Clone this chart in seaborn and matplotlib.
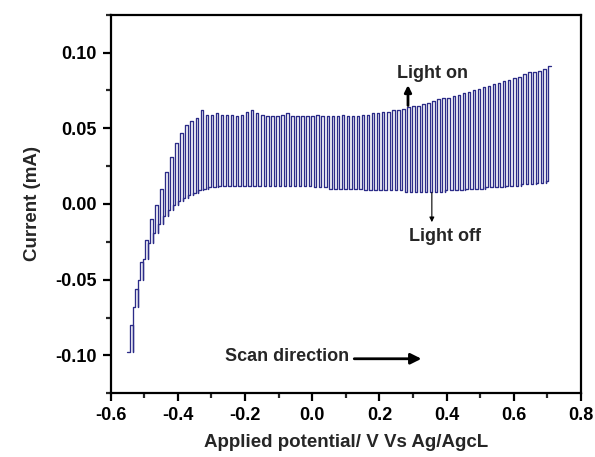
import numpy as np
import pandas as pd
import matplotlib
matplotlib.use("Agg")
import matplotlib.pyplot as plt
import seaborn as sns

# Chopped-light linear sweep: start potential of each light cycle (V vs Ag/AgCl)
cycle_potential = [
    -0.550, -0.535, -0.520, -0.505, -0.490, -0.475, -0.460, -0.445, -0.430, -0.415,
    -0.400, -0.385, -0.370, -0.355, -0.340, -0.325, -0.310, -0.295, -0.280, -0.265,
    -0.250, -0.235, -0.220, -0.205, -0.190, -0.175, -0.160, -0.145, -0.130, -0.115,
    -0.100, -0.085, -0.070, -0.055, -0.040, -0.025, -0.010, 0.005, 0.020, 0.035,
    0.050, 0.065, 0.080, 0.095, 0.110, 0.125, 0.140, 0.155, 0.170, 0.185,
    0.200, 0.215, 0.230, 0.245, 0.260, 0.275, 0.290, 0.305, 0.320, 0.335,
    0.350, 0.365, 0.380, 0.395, 0.410, 0.425, 0.440, 0.455, 0.470, 0.485,
    0.500, 0.515, 0.530, 0.545, 0.560, 0.575, 0.590, 0.605, 0.620, 0.635,
    0.650, 0.665, 0.680, 0.695,
]
# dark (light off) current in each cycle, mA
current_off = [
    -0.098, -0.068, -0.050, -0.036, -0.026, -0.019, -0.013, -0.008, -0.004, -0.001,
    0.002, 0.004, 0.006, 0.007, 0.009, 0.010, 0.011, 0.011, 0.012, 0.012,
    0.012, 0.012, 0.012, 0.012, 0.012, 0.012, 0.012, 0.012, 0.012, 0.012,
    0.012, 0.012, 0.012, 0.012, 0.012, 0.012, 0.012, 0.011, 0.011, 0.011,
    0.010, 0.010, 0.010, 0.010, 0.010, 0.010, 0.010, 0.009, 0.009, 0.009,
    0.009, 0.009, 0.009, 0.009, 0.009, 0.008, 0.008, 0.008, 0.008, 0.008,
    0.008, 0.008, 0.008, 0.009, 0.009, 0.009, 0.009, 0.010, 0.010, 0.010,
    0.010, 0.011, 0.011, 0.011, 0.011, 0.012, 0.012, 0.012, 0.013, 0.013,
    0.013, 0.014, 0.014, 0.015,
]
# photocurrent (light on) in each cycle, mA
current_on = [
    -0.080, -0.056, -0.038, -0.024, -0.010, -0.001, 0.010, 0.021, 0.031, 0.040,
    0.047, 0.052, 0.055, 0.057, 0.062, 0.059, 0.059, 0.060, 0.059, 0.059,
    0.059, 0.058, 0.059, 0.061, 0.062, 0.060, 0.059, 0.058, 0.058, 0.058,
    0.059, 0.060, 0.058, 0.058, 0.058, 0.058, 0.058, 0.059, 0.058, 0.058,
    0.058, 0.058, 0.059, 0.058, 0.058, 0.058, 0.059, 0.059, 0.060, 0.060,
    0.061, 0.061, 0.062, 0.062, 0.063, 0.064, 0.065, 0.065, 0.066, 0.067,
    0.068, 0.069, 0.070, 0.070, 0.071, 0.072, 0.073, 0.074, 0.075, 0.076,
    0.077, 0.078, 0.079, 0.080, 0.081, 0.082, 0.083, 0.084, 0.086, 0.087,
    0.087, 0.088, 0.089, 0.091,
]
chop_width = 0.0075  # V swept during each half cycle

# build the step trace: off half then on half for each cycle
xs, ys = [], []
for v, off, on in zip(cycle_potential, current_off, current_on):
    xs += [v, v + chop_width, v + chop_width, v + 2 * chop_width]
    ys += [off, off, on, on]
    xs.append(v + 2 * chop_width)
    ys.append(off)
xs, ys = xs[:-1], ys[:-1]
df = pd.DataFrame({"E": xs, "I": ys})

sns.set_style("ticks")
plt.rcParams["font.family"] = ["Liberation Sans", "DejaVu Sans"]
plt.rcParams["font.weight"] = "bold"

fig = plt.figure(figsize=(5.95, 4.57), dpi=100)
ax = fig.add_axes([0.186, 0.1394, 0.7905, 0.8285])

sns.lineplot(data=df, x="E", y="I", sort=False, estimator=None, ax=ax,
             color="#2c2c88", lw=0.95)

ax.set_xlim(-0.6, 0.8)
ax.set_ylim(-0.125, 0.125)
ax.set_xticks(np.arange(-0.6, 0.81, 0.2))
ax.set_xticks(np.arange(-0.5, 0.8, 0.2), minor=True)
ax.set_yticks([-0.10, -0.05, 0.0, 0.05, 0.10])
ax.set_yticks([-0.125, -0.075, -0.025, 0.025, 0.075, 0.125], minor=True)
ax.set_xticklabels([f"{t:.1f}" for t in np.arange(-0.6, 0.81, 0.2)])
ax.set_yticklabels(["-0.10", "-0.05", "0.00", "0.05", "0.10"])
for s in ax.spines.values():
    s.set_linewidth(1.6)
    s.set_color("black")
ax.tick_params(which="major", direction="out", length=6, width=1.6,
               labelsize=13, pad=4, colors="black")
ax.tick_params(which="minor", direction="out", length=3.5, width=1.6)
for lab in ax.get_xticklabels() + ax.get_yticklabels():
    lab.set_fontweight("bold")

ax.set_xlabel("Applied potential/ V Vs Ag/AgcL", fontsize=13.5,
              fontweight="bold", labelpad=7)
ax.set_ylabel("Current (mA)", fontsize=13.5, fontweight="bold", labelpad=10)

ax.text(0.359, 0.0864, "Light on", fontsize=13, fontweight="bold",
        ha="center", va="center")
ax.annotate("", xy=(0.285, 0.0785), xytext=(0.285, 0.0650),
            arrowprops=dict(arrowstyle="-|>", lw=2, color="black",
                            mutation_scale=10, shrinkA=0, shrinkB=0))
ax.text(0.395, -0.0216, "Light off", fontsize=13, fontweight="bold",
        ha="center", va="center")
ax.annotate("", xy=(0.356, -0.0120), xytext=(0.356, 0.0074),
            arrowprops=dict(arrowstyle="-|>", lw=0.8, color="black",
                            mutation_scale=7, shrinkA=0, shrinkB=0))
ax.text(-0.259, -0.1004, "Scan direction", fontsize=13, fontweight="bold",
        ha="left", va="center")
ax.annotate("", xy=(0.325, -0.1022), xytext=(0.125, -0.1022),
            arrowprops=dict(arrowstyle="-|>", lw=2, color="black",
                            mutation_scale=16, shrinkA=0, shrinkB=0))

fig.savefig("out.png", dpi=100)
